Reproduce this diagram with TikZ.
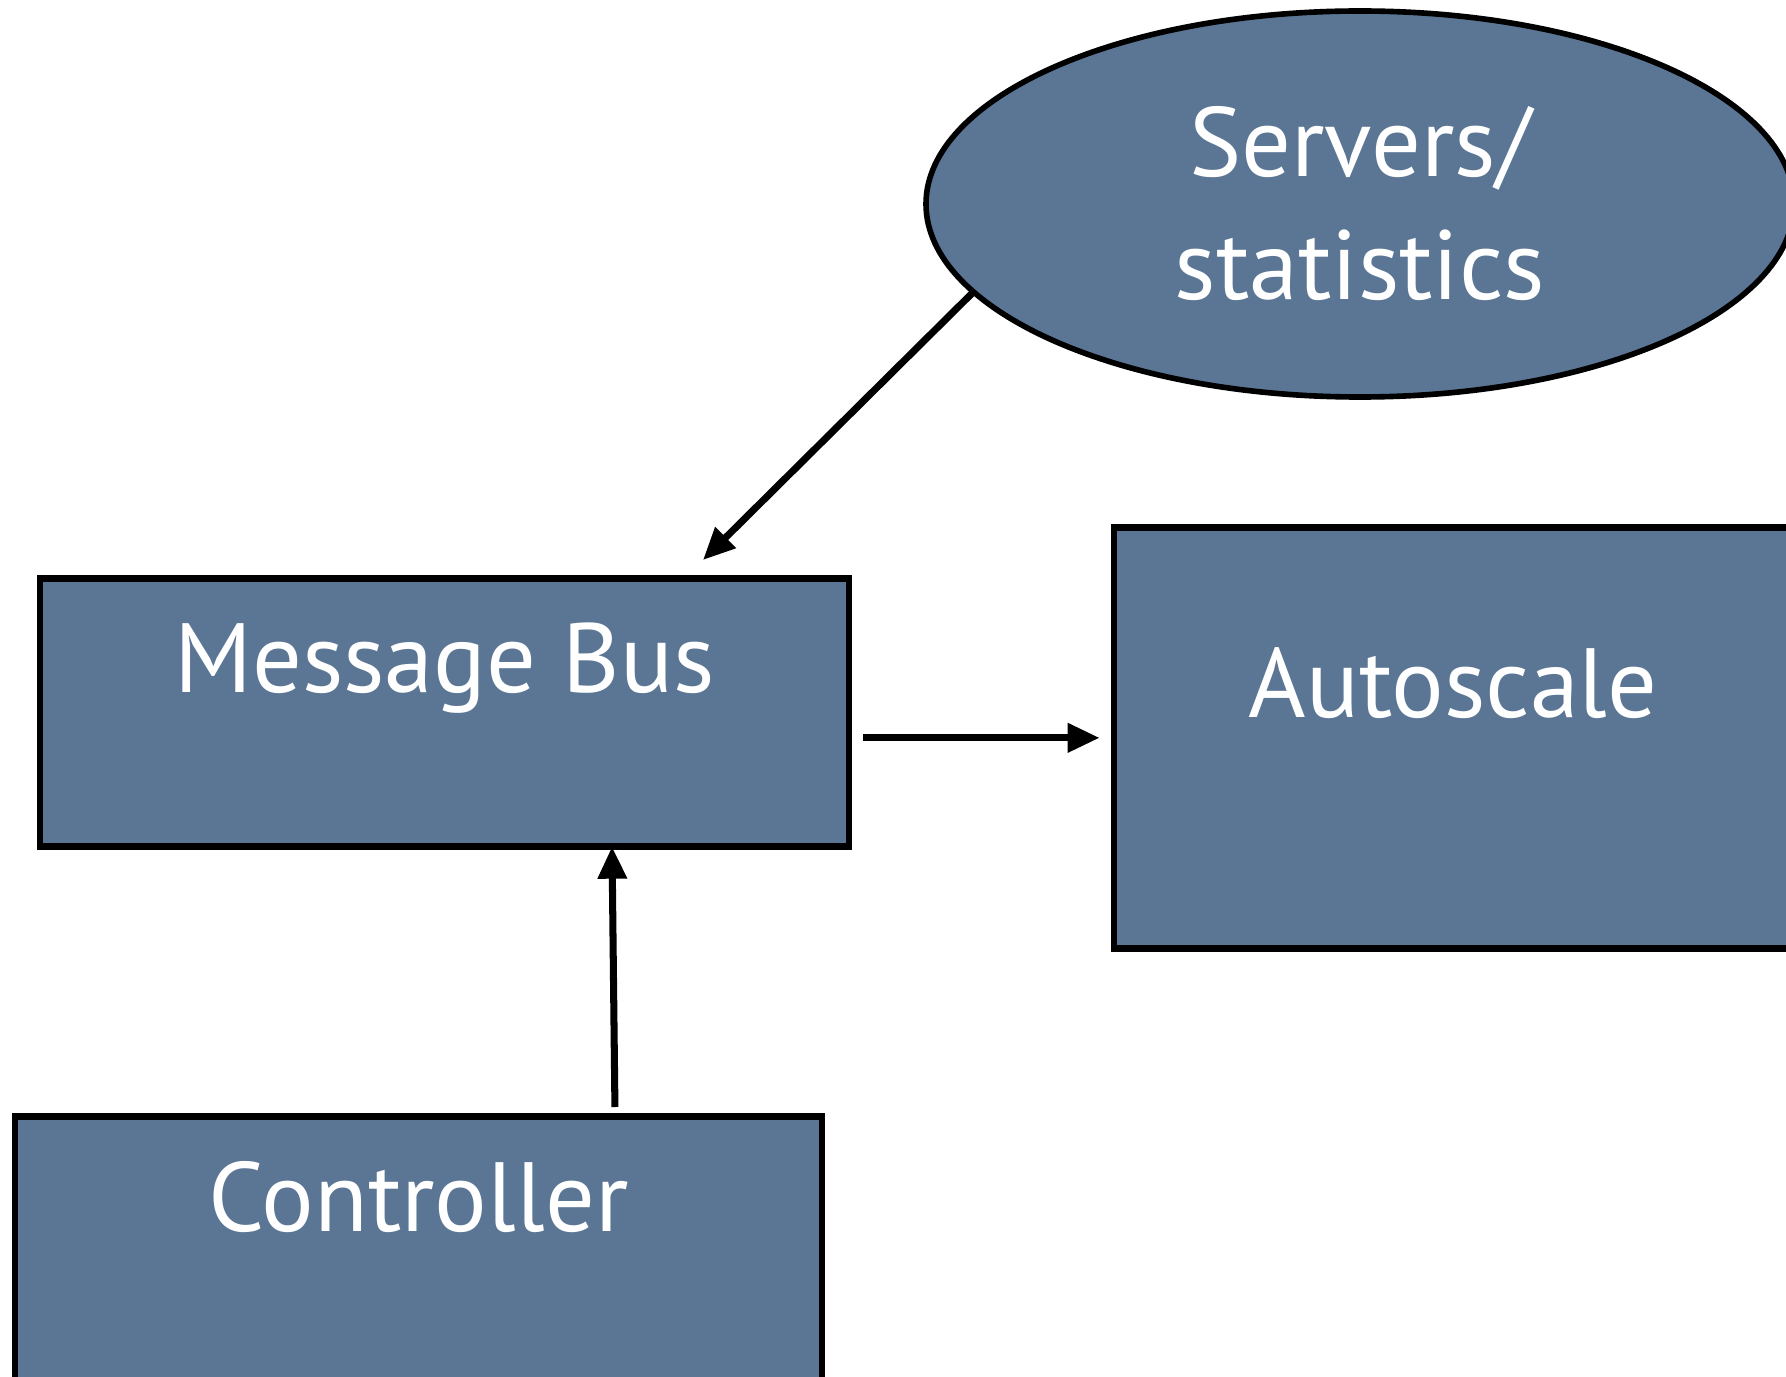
\documentclass[tikz,border=0pt]{standalone}
\usepackage{fontspec}
\setmainfont{PT Sans}
\usepackage{tikz}
\usetikzlibrary{arrows.meta,positioning,shapes.geometric}
\definecolor{slate}{HTML}{5B7694}
\tikzset{
  every node/.style={font=\fontsize{28}{35}\selectfont,text=white},
  box/.style={draw=black,fill=slate,line width=1.9pt,inner sep=0pt,anchor=north},
  blob/.style={ellipse,draw=black,fill=slate,line width=1.6pt,inner sep=0pt,align=center},
  ar/.style={-{Triangle[length=0.32cm,width=0.28cm]},draw=black,fill=black,line width=2pt},
}
\begin{document}
\begin{tikzpicture}[x=1cm,y=1cm]
\path[use as bounding box] (0,0) rectangle (17.86,-13.77);
\clip (0,0) rectangle (17.86,-13.77);
\node[blob,minimum width=8.68cm,minimum height=3.86cm] (srv) at (13.60,-2.04) {Servers/\\statistics};
\node[box,minimum width=8.09cm,text height=1.14cm,text depth=1.54cm] (bus) at (4.445,-5.75) {Message Bus};
\node[box,minimum width=6.78cm,text height=1.90cm,text depth=2.31cm] (auto) at (14.53,-5.24) {Autoscale};
\node[box,minimum width=8.07cm,text height=1.15cm,text depth=1.95cm] (ctrl) at (4.185,-11.13) {Controller};
\draw[ar] (srv.193) -- ([xshift=2.585cm,yshift=0.15cm]bus.north);
\draw[ar,shorten <=0.11cm,shorten >=0.11cm] (bus.east |- auto.west) -- (auto.west);
\draw[ar,shorten <=0.06cm] ([xshift=1.965cm]ctrl.north) -- ([xshift=1.675cm,yshift=0.03cm]bus.south);
\end{tikzpicture}
\end{document}
